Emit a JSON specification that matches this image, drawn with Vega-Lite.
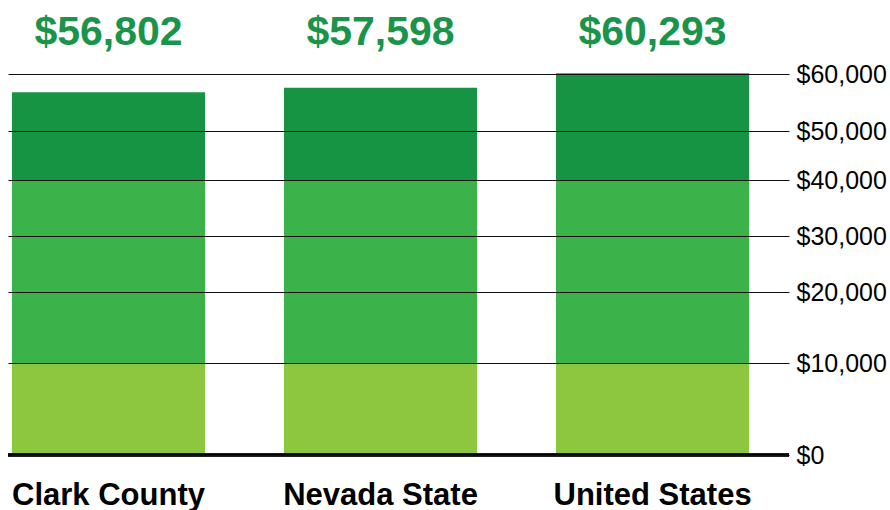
{
  "$schema": "https://vega.github.io/schema/vega-lite/v6.json",
  "autosize": {"type": "none"},
  "width": 781,
  "height": 455,
  "padding": {"left": 8, "top": 0, "right": 101, "bottom": 55},
  "background": "white",
  "config": {"view": {"stroke": null}},
  "datasets": {
    "totals": [
      {"region": "Clark County", "income": 56802},
      {"region": "Nevada State", "income": 57598},
      {"region": "United States", "income": 60293}
    ],
    "segments": [
      {"region": "Clark County", "band": "low", "from": 0, "to": 10000},
      {"region": "Clark County", "band": "mid", "from": 10000, "to": 40000},
      {"region": "Clark County", "band": "high", "from": 40000, "to": 56802},
      {"region": "Nevada State", "band": "low", "from": 0, "to": 10000},
      {"region": "Nevada State", "band": "mid", "from": 10000, "to": 40000},
      {"region": "Nevada State", "band": "high", "from": 40000, "to": 57598},
      {"region": "United States", "band": "low", "from": 0, "to": 10000},
      {"region": "United States", "band": "mid", "from": 10000, "to": 40000},
      {"region": "United States", "band": "high", "from": 40000, "to": 60293}
    ]
  },
  "layer": [
    {
      "data": {"name": "segments"},
      "mark": {"type": "bar"},
      "encoding": {
        "x": {
          "field": "region",
          "type": "nominal",
          "sort": null,
          "scale": {"paddingInner": 0.29, "paddingOuter": 0.0805, "align": 0.09},
          "axis": {
            "title": null,
            "domain": false,
            "ticks": false,
            "labelAngle": 0,
            "labelFont": "Liberation Sans",
            "labelFontWeight": "bold",
            "labelFontSize": 31,
            "labelColor": "#000000",
            "labelPadding": 25,
            "labelLimit": 500
          }
        },
        "y": {
          "field": "from",
          "type": "quantitative",
          "stack": null,
          "scale": {
            "type": "linear",
            "domain": [0, 10000, 20000, 30000, 40000, 50000, 60000, 70000],
            "range": [455, 363, 292, 236, 180, 131, 74, 45],
            "nice": false,
            "zero": false
          },
          "axis": {
            "orient": "right",
            "title": null,
            "values": [0, 10000, 20000, 30000, 40000, 50000, 60000],
            "format": "$,d",
            "domain": false,
            "ticks": false,
            "grid": true,
            "gridColor": "#111111",
            "gridOpacity": 1,
            "gridWidth": 1,
            "zindex": 1,
            "labelFont": "Liberation Sans",
            "labelFontSize": 25,
            "labelColor": "#000000",
            "labelPadding": 7
          }
        },
        "y2": {"field": "to"},
        "color": {
          "field": "band",
          "type": "nominal",
          "scale": {"domain": ["low", "mid", "high"], "range": ["#8DC63F", "#3BB34A", "#169443"]},
          "legend": null
        }
      }
    },
    {
      "data": {"name": "segments"},
      "transform": [{"filter": "datum.band === 'low'"}],
      "mark": {"type": "rule", "color": "#000000", "strokeWidth": 3},
      "encoding": {
        "y": {"field": "from", "type": "quantitative"}
      }
    },
    {
      "data": {"name": "totals"},
      "mark": {
        "type": "text",
        "font": "Liberation Sans",
        "fontWeight": "bold",
        "fontSize": 41,
        "color": "#19944A",
        "baseline": "alphabetic",
        "align": "center"
      },
      "encoding": {
        "x": {"field": "region", "type": "nominal", "sort": null},
        "y": {"datum": 70000, "type": "quantitative"},
        "text": {"field": "income", "type": "quantitative", "format": "$,d"}
      }
    }
  ]
}
